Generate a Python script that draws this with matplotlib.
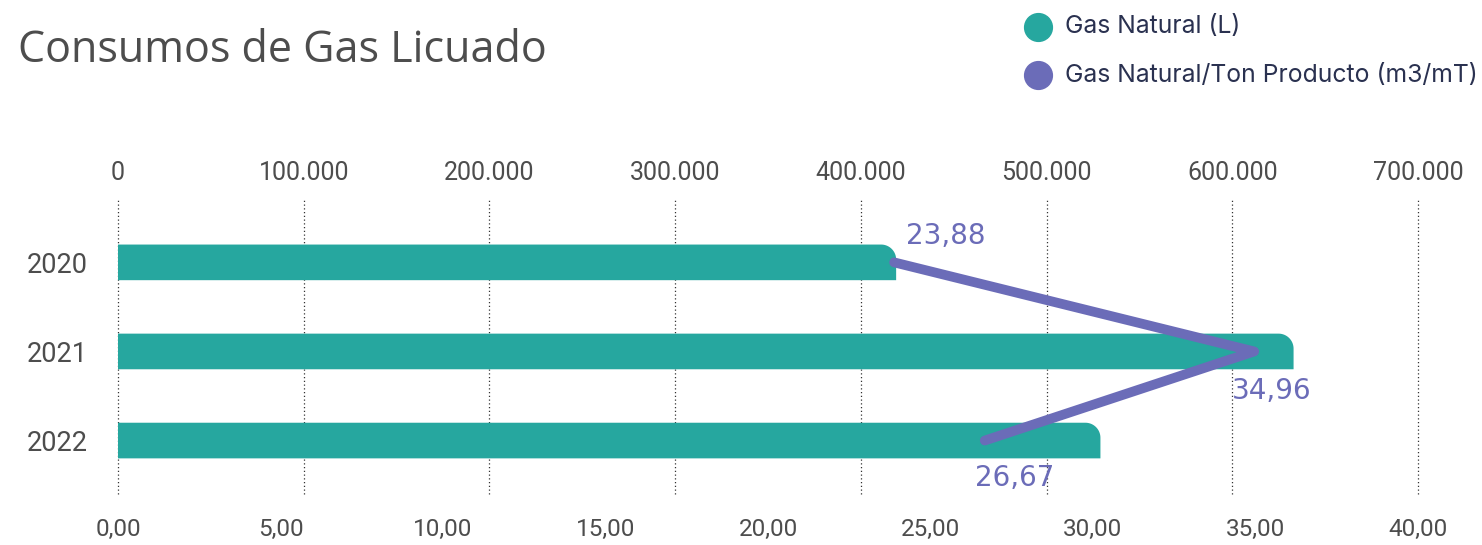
import numpy as np
import matplotlib
matplotlib.use("Agg")
import matplotlib.pyplot as plt
from matplotlib.patches import Polygon
from matplotlib.lines import Line2D
from matplotlib.ticker import FuncFormatter, MultipleLocator

# datos
anios = ["2020", "2021", "2022"]
gas_litros = [419000, 633000, 529000]
gas_por_ton = [23.88, 34.96, 26.67]

TEAL = "#26A79F"
PURPLE = "#6B6CB8"
GRIS = "#4D4D4D"

W, H = 1482, 545
fig = plt.figure(figsize=(W / 100, H / 100), dpi=100)
ax = fig.add_axes([118 / W, 1 - 494 / H, 1300 / W, 294 / H])

pos = np.arange(len(anios))
ax.set_xlim(0, 700000)
ax.set_ylim(2.6, -0.7)


def barra_redondeada(ax, y, w, h, r_px, color):
    # solo la esquina superior derecha redondeada
    bb = ax.get_window_extent()
    x0, x1 = ax.get_xlim()
    y0, y1 = ax.get_ylim()
    rx = r_px * (x1 - x0) / bb.width
    ry = r_px * abs(y1 - y0) / bb.height
    top, bottom = y - h / 2, y + h / 2
    cx, cy = w - rx, top + ry
    t = np.linspace(0, np.pi / 2, 25)
    arco = np.column_stack([cx + rx * np.cos(t), cy - ry * np.sin(t)])
    pts = np.vstack([[0, bottom], [w, bottom], arco, [0, top]])
    ax.add_patch(Polygon(pts, closed=True, facecolor=color, edgecolor="none", zorder=2))


for p, v in zip(pos, gas_litros):
    barra_redondeada(ax, p, v, 0.4, 15, TEAL)

# eje secundario (linea)
ax2 = ax.twiny()
ax2.set_xlim(0, 40)

ax.xaxis.tick_top()
ax.xaxis.set_major_locator(MultipleLocator(100000))
ax.xaxis.set_major_formatter(FuncFormatter(lambda v, _: f"{v:,.0f}".replace(",", ".")))
ax.set_yticks(pos)
ax.set_yticklabels(anios)
ax.grid(axis="x", color="#333333", linestyle=(0, (1, 2)), linewidth=0.9, zorder=0)
for gl in ax.get_xgridlines():
    gl.set_clip_on(False)
ax.tick_params(axis="x", length=0, pad=11, labelsize=18, labelcolor=GRIS)
ax.tick_params(axis="y", length=0, pad=22, labelsize=19.5, labelcolor=GRIS)
for s in ax.spines.values():
    s.set_visible(False)

ax2.xaxis.tick_bottom()
ax2.xaxis.set_major_locator(MultipleLocator(5))
ax2.xaxis.set_major_formatter(FuncFormatter(lambda v, _: f"{v:.2f}".replace(".", ",")))
ax2.tick_params(axis="x", length=0, pad=17, labelsize=17.5, labelcolor=GRIS)
for s in ax2.spines.values():
    s.set_visible(False)

ax2.plot(gas_por_ton, pos, color=PURPLE, linewidth=7, solid_capstyle="round",
         solid_joinstyle="round", zorder=3)

offsets = [(12, 26), (-22, -40), (-10, -37)]
for v, p, off in zip(gas_por_ton, pos, offsets):
    ax2.annotate(f"{v:.2f}".replace(".", ","), (v, p), xytext=off,
                 textcoords="offset pixels", ha="left", va="center",
                 fontsize=20, color=PURPLE)

for a in (ax, ax2):
    for lab in a.get_xticklabels() + a.get_yticklabels():
        lab.set_family("Roboto")

# titulo
fig.text(18 / W, 1 - 62 / H, "Consumos de Gas Licuado", fontsize=31,
         family="Open Sans", color=GRIS, va="baseline", ha="left")

# leyenda
leyenda = [("Gas Natural (L)", TEAL, 27), ("Gas Natural/Ton Producto (m3/mT)", PURPLE, 75)]
for txt, col, ypx in leyenda:
    fig.add_artist(Line2D([1038 / W], [1 - ypx / H], marker="o", markersize=20,
                          color=col, linestyle="none", transform=fig.transFigure))
    fig.text(1065 / W, 1 - ypx / H, txt, fontsize=17.8, family="Inter",
             color="#2A3150", va="center", ha="left")

fig.savefig("out.png", dpi=100)
